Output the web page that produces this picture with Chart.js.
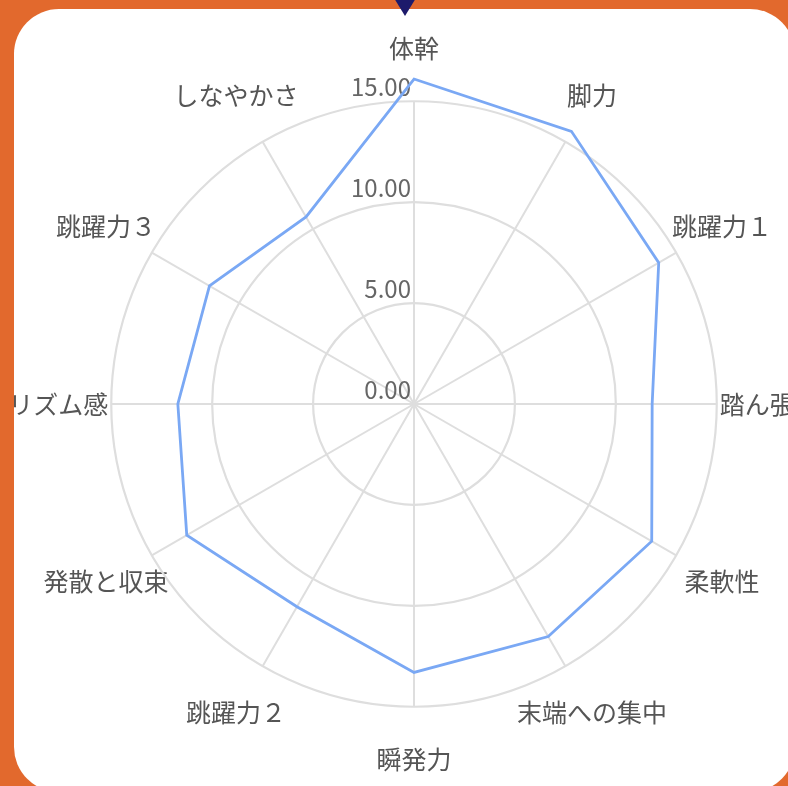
<!DOCTYPE html>
<html lang="ja">
<head>
<meta charset="utf-8">
<title>レーダーチャート</title>
<script src="https://cdn.jsdelivr.net/npm/chart.js@4/dist/chart.umd.min.js"></script>
<style>
  html, body { margin: 0; padding: 0; }
  body {
    width: 788px; height: 786px; overflow: hidden;
    background: #e2692d; position: relative;
  }
  .card {
    position: absolute; left: 14px; top: 9px;
    width: 781px; height: 783px;
    background: #ffffff; border-radius: 45px; overflow: hidden;
  }
  .card canvas { position: absolute; }
  .marker {
    position: absolute; left: 394px; top: -2px; width: 0; height: 0;
    border-left: 11px solid transparent;
    border-right: 11px solid transparent;
    border-top: 18px solid #1d1a6b;
  }
</style>
</head>
<body>
<div class="card"><canvas id="radar"></canvas></div>
<div class="marker"></div>
<script>
"use strict";

// Categories, clockwise from the top
const LABELS = [
  "体幹", "脚力", "跳躍力１", "踏ん張り", "柔軟性", "末端への集中",
  "瞬発力", "跳躍力２", "発散と収束", "リズム感", "跳躍力３", "しなやかさ",
];
// Scores
const SCORES = [16.1, 15.6, 14.0, 11.8, 13.6, 13.3, 13.3, 11.6, 13.0, 11.7, 11.7, 10.7];
const TICK_VALUES = [0, 5, 10, 15];
const TICK_LABELS = ["0.00", "5.00", "10.00", "15.00"];

const FONT = '"Noto Sans CJK JP", "Noto Sans", sans-serif';
const LABEL_SIZE = 25;
const LABEL_GAP = 53;      // outer ring -> label centre
const RADIUS = 303;        // wanted outer ring radius
const CENTER_X = 414, CENTER_Y = 404;  // page coords
const CARD_LEFT = 14, CARD_TOP = 9;

const measureCtx = document.createElement("canvas").getContext("2d");
measureCtx.font = LABEL_SIZE + "px " + FONT;

// point labels are centred on a circle LABEL_GAP past the ring:
// padding moves them sideways, line height moves them up / down
function labelGeom(index, label) {
  const th = index * 2 * Math.PI / LABELS.length;
  const w = measureCtx.measureText(label).width;
  const s = Math.abs(Math.sin(th)), c = Math.abs(Math.cos(th));
  if (s < 1e-6) return { pad: 0, lh: 2 * LABEL_GAP };
  if (c < 1e-6) return { pad: LABEL_GAP - w / 2, lh: LABEL_SIZE * 1.2 };
  return { pad: LABEL_GAP - w / (2 * s), lh: Math.max(1, w * c / s) };
}

// tick labels sit just left of the vertical axis, a little above each ring
const tickLabelPlugin = {
  id: "tickLabels",
  beforeDatasetsDraw(chart) {
    const s = chart.scales.r;
    const c = chart.ctx;
    c.save();
    c.font = "24px " + FONT;
    c.fillStyle = "#666666";
    c.textAlign = "right";
    c.textBaseline = "middle";
    TICK_VALUES.forEach((v, i) => {
      const d = s.getDistanceFromCenterForValue(v);
      c.fillText(TICK_LABELS[i], s.xCenter - 3, s.yCenter - d - 14);
    });
    c.restore();
  },
};

function makeConfig() {
  return {
    type: "radar",
    data: {
      labels: LABELS.slice(),
      datasets: [{
        data: SCORES.slice(),
        borderColor: "#7aa8f4",
        backgroundColor: "transparent",
        borderWidth: 2.8,
        fill: false,
        tension: 0,
        pointRadius: 0,
        pointHoverRadius: 0,
      }],
    },
    options: {
      responsive: false,
      animation: false,
      devicePixelRatio: 1,
      plugins: { legend: { display: false }, tooltip: { enabled: false } },
      scales: {
        r: {
          min: 0,
          max: 15,
          ticks: { stepSize: 5, display: false },
          grid: { circular: true, color: "#dedede", lineWidth: 2.2 },
          angleLines: { color: "#dedede", lineWidth: 2 },
          pointLabels: {
            color: "#555555",
            padding: (ctx) => labelGeom(ctx.index, ctx.label).pad,
            font: (ctx) => ({
              family: FONT,
              size: LABEL_SIZE,
              lineHeight: labelGeom(ctx.index, ctx.label).lh.toFixed(2) + "px",
            }),
          },
        },
      },
    },
    plugins: [tickLabelPlugin],
  };
}

// size the canvas until the outer ring has the wanted radius
const canvas = document.getElementById("radar");
let size = 900;
let chart = null;
for (let k = 0; k < 12; k++) {
  if (chart) chart.destroy();
  canvas.width = size;
  canvas.height = size;
  chart = new Chart(canvas, makeConfig());
  const d = chart.scales.r.drawingArea;
  if (Math.abs(d - RADIUS) < 1) break;
  size += Math.round(2 * (RADIUS - d) / 1.15);
}
const sc = chart.scales.r;
canvas.style.left = (CENTER_X - CARD_LEFT - sc.xCenter) + "px";
canvas.style.top = (CENTER_Y - CARD_TOP - sc.yCenter) + "px";
</script>
</body>
</html>
